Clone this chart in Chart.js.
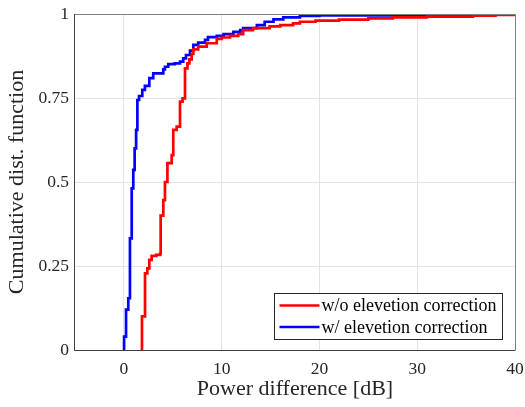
<!DOCTYPE html>
<html>
<head>
<meta charset="utf-8">
<script src="https://cdn.jsdelivr.net/npm/chart.js@4/dist/chart.umd.min.js"></script>
<style>
html,body{margin:0;padding:0;background:#fff;}
#wrap{width:525px;height:407px;position:relative;}
</style>
</head>
<body>
<div id="wrap"><canvas id="c" width="525" height="407"></canvas></div>
<script>
// Series: w/o elevation correction (red)
const woX = [1.8, 1.85, 2.16, 2.4, 2.6, 2.84, 3.3, 3.7, 3.76, 4.03, 4.2, 4.45, 4.89, 5.05, 5.4, 5.74, 6.0, 6.25, 6.5, 6.7, 6.93, 7.1, 7.6, 8.47, 9.5, 10.0, 10.85, 11.7, 12.2, 13.2, 14.9, 16, 17.3, 18, 19.6, 22, 25, 27.5, 31, 35.7, 38, 40];
const woY = [0, 0.10, 0.228, 0.243, 0.268, 0.28, 0.283, 0.286, 0.40, 0.446, 0.50, 0.556, 0.58, 0.655, 0.665, 0.739, 0.749, 0.838, 0.853, 0.865, 0.881, 0.895, 0.903, 0.913, 0.926, 0.93, 0.935, 0.94, 0.952, 0.958, 0.963, 0.967, 0.972, 0.977, 0.98, 0.983, 0.987, 0.99, 0.992, 0.995, 0.997, 1.0];
// Series: w/ elevation correction (blue)
const wX = [0.0, 0.02, 0.22, 0.45, 0.62, 0.8, 0.96, 1.1, 1.25, 1.38, 1.55, 1.88, 2.15, 2.6, 3.0, 4.03, 4.2, 4.54, 5.2, 5.74, 6.07, 6.35, 6.76, 7.1, 7.6, 8.3, 8.6, 9.5, 10.2, 11.2, 11.9, 12.2, 13.6, 14.4, 15.3, 16.3, 18, 20, 27.5, 35.9];
const wY = [0, 0.04, 0.12, 0.154, 0.332, 0.481, 0.536, 0.6, 0.655, 0.744, 0.756, 0.774, 0.786, 0.809, 0.823, 0.835, 0.843, 0.851, 0.853, 0.858, 0.868, 0.878, 0.891, 0.908, 0.915, 0.923, 0.931, 0.935, 0.94, 0.947, 0.952, 0.958, 0.967, 0.977, 0.984, 0.99, 0.994, 0.996, 0.998, 1.0];

const seriesLabels = ['w/o elevetion correction', 'w/ elevetion correction'];
const xTicks = [0, 10, 20, 30, 40];
const yTicks = [0, 0.25, 0.5, 0.75, 1];
const yTickLabels = ['0', '0.25', '0.5', '0.75', '1'];
const xTitle = 'Power difference [dB]';
const yTitle = 'Cumulative dist. function';

const toPts = (xs, ys) => xs.map((x, i) => ({x: x, y: ys[i]}));
const FONT = "'Liberation Serif', 'Times New Roman', serif";

const boxPlugin = {
  id: 'boxPlugin',
  afterDatasetsDraw(chart) {
    const {ctx, chartArea: a} = chart;
    ctx.save();
    ctx.lineWidth = 1;
    ctx.strokeStyle = '#808080';
    ctx.beginPath();
    ctx.moveTo(a.left, a.top + 0.5);
    ctx.lineTo(a.right + 0.5, a.top + 0.5);
    ctx.lineTo(a.right + 0.5, a.bottom);
    ctx.stroke();
    ctx.strokeStyle = '#404040';
    ctx.beginPath();
    ctx.moveTo(a.left - 0.5, a.top);
    ctx.lineTo(a.left - 0.5, a.bottom + 0.5);
    ctx.lineTo(a.right + 0.5, a.bottom + 0.5);
    ctx.stroke();
    ctx.restore();
  },
  afterDraw(chart) {
    const {ctx} = chart;
    const bx = 274.5, by = 293.5, bw = 228, bh = 46;
    ctx.save();
    ctx.fillStyle = '#fff';
    ctx.fillRect(bx, by, bw, bh);
    ctx.strokeStyle = '#262626';
    ctx.lineWidth = 1;
    ctx.strokeRect(bx, by, bw, bh);
    ctx.font = '18px ' + FONT;
    ctx.textBaseline = 'middle';
    ctx.fillStyle = '#000';
    chart.data.datasets.forEach((ds, i) => {
      const yy = by + 12 + i * 21.5;
      ctx.strokeStyle = ds.borderColor;
      ctx.lineWidth = 2.5;
      ctx.beginPath();
      ctx.moveTo(bx + 5, yy);
      ctx.lineTo(bx + 45, yy);
      ctx.stroke();
      ctx.fillText(ds.label, bx + 47, yy + 1);
    });
    ctx.restore();
  }
};

new Chart(document.getElementById('c'), {
  type: 'line',
  data: {
    datasets: [
      {label: seriesLabels[0], data: toPts(woX, woY), borderColor: '#ff0000', backgroundColor: '#ff0000', borderWidth: 2.7, pointRadius: 0, stepped: 'before', fill: false},
      {label: seriesLabels[1], data: toPts(wX, wY), borderColor: '#0000ff', backgroundColor: '#0000ff', borderWidth: 2.7, pointRadius: 0, stepped: 'before', fill: false}
    ]
  },
  options: {
    responsive: false,
    animation: false,
    devicePixelRatio: 1,
    layout: {padding: {top: 14, right: 10, left: 0, bottom: 0}},
    plugins: {legend: {display: false}, tooltip: {enabled: false}},
    scales: {
      x: {
        type: 'linear', min: -5, max: 40,
        afterBuildTicks: s => { s.ticks = xTicks.map(v => ({value: v})); },
        afterFit: s => { s.height = 57; s.paddingLeft = 0; s.paddingRight = 0; },
        grid: {color: '#e3e3e3', drawTicks: false, lineWidth: 1},
        border: {display: false},
        ticks: {font: {family: FONT, size: 17.5}, color: '#262626', padding: 9, maxRotation: 0},
        title: {display: true, text: xTitle, font: {family: FONT, size: 22}, color: '#262626', padding: {top: 0, bottom: 5}}
      },
      y: {
        type: 'linear', min: 0, max: 1,
        afterBuildTicks: s => { s.ticks = yTicks.map(v => ({value: v})); },
        afterFit: s => { s.width = 75; s.paddingTop = 0; s.paddingBottom = 0; },
        grid: {color: '#e3e3e3', drawTicks: false, lineWidth: 1},
        border: {display: false},
        ticks: {font: {family: FONT, size: 17.5}, color: '#262626', padding: 6,
          callback: (v) => { const i = yTicks.indexOf(v); return i >= 0 ? yTickLabels[i] : ''; }},
        title: {display: true, text: yTitle, font: {family: FONT, size: 22}, color: '#262626', padding: {top: 4, bottom: 0}}
      }
    }
  },
  plugins: [boxPlugin]
});
</script>
</body>
</html>
